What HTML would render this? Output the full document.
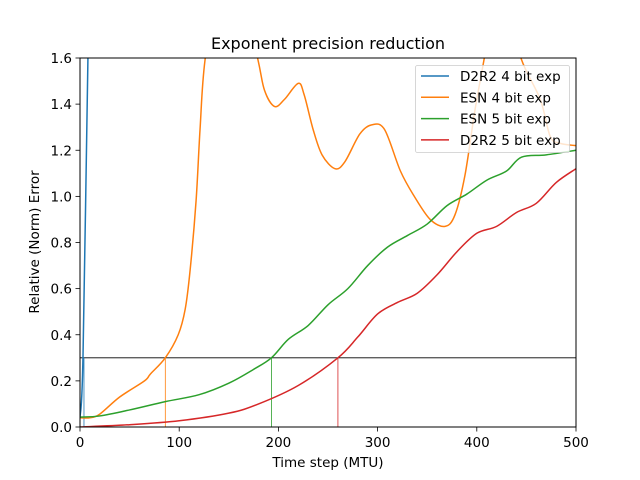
<!DOCTYPE html>
<html><head><meta charset="utf-8"><style>
body{margin:0;background:#fff}
svg{display:block;font-family:"DejaVu Sans","Liberation Sans",sans-serif}
</style></head><body>
<svg id="chart" width="640" height="480" viewBox="0 0 640 480">
<rect width="640" height="480" fill="#fff"/>
<defs><clipPath id="clip"><rect x="80" y="58" width="496" height="369"/></clipPath></defs>
<g id="plot" clip-path="url(#clip)"></g>
<g id="axes"></g>
</svg>
<script>
const xTicks=[0,100,200,300,400,500];
const yTicks=[0.0,0.2,0.4,0.6,0.8,1.0,1.2,1.4,1.6];
const seriesNames=["D2R2 4 bit exp","ESN 4 bit exp","ESN 5 bit exp","D2R2 5 bit exp"];
const colors=["#1f77b4","#ff7f0e","#2ca02c","#d62728"];
const d2r24x=[0,3,8,10];
const d2r24y=[0.04,0.3,1.6,2.0];
const esn4x=[0,10,20,40,65,71,86,99,106,111,117,121,126,140,160,179,186,196,206,220,226,235,244,257,267,282,294,307,323,337,353,368,378,388,398,408,420,432,443,464,474,484,500];
const esn4y=[0.04,0.04,0.056,0.13,0.2,0.23,0.3,0.4,0.51,0.68,0.98,1.29,1.59,1.95,1.95,1.6,1.46,1.39,1.42,1.49,1.44,1.29,1.18,1.12,1.15,1.27,1.31,1.29,1.11,1.0,0.9,0.87,0.92,1.09,1.37,1.61,1.9,1.9,1.62,1.42,1.26,1.23,1.22];
const esn5x=[0,20,50,86,120,150,175,193,210,230,250,270,290,310,330,350,370,390,410,430,445,470,500];
const esn5y=[0.043,0.048,0.074,0.11,0.14,0.19,0.25,0.3,0.38,0.44,0.53,0.6,0.7,0.78,0.83,0.88,0.96,1.01,1.07,1.11,1.17,1.18,1.2];
const d2r25x=[0,50,100,150,180,220,260,280,300,320,340,360,380,400,420,440,460,480,500];
const d2r25y=[0.0,0.01,0.027,0.06,0.1,0.18,0.3,0.39,0.49,0.54,0.58,0.66,0.76,0.84,0.87,0.93,0.97,1.06,1.12];
const threshold=0.3;
const crossX=[4,86,193,260];

const X=v=>80+v*496/500, Y=v=>427-v*369/1.6;
const NS="http://www.w3.org/2000/svg";
const plot=document.getElementById('plot'), axes=document.getElementById('axes');
function mk(tag,attrs,parent){const e=document.createElementNS(NS,tag);for(const k in attrs)e.setAttribute(k,attrs[k]);parent.appendChild(e);return e;}
function smooth(xs,ys){const p=xs.map((x,i)=>[X(x),Y(ys[i])]);let d=`M${p[0][0]},${p[0][1]}`;
for(let i=0;i<p.length-1;i++){const p0=p[i-1]||p[i],p1=p[i],p2=p[i+1],p3=p[i+2]||p2;
d+=` C${p1[0]+(p2[0]-p0[0])/6},${p1[1]+(p2[1]-p0[1])/6} ${p2[0]-(p3[0]-p1[0])/6},${p2[1]-(p3[1]-p1[1])/6} ${p2[0]},${p2[1]}`;}return d;}
let h=mk('line',{x1:80,x2:576,y1:Y(threshold),y2:Y(threshold),stroke:'#000','stroke-width':0.8},plot);

crossX.forEach((cx,i)=>{const l=mk('line',{x1:X(cx),x2:X(cx),y1:Y(0),y2:Y(threshold),stroke:colors[i],'stroke-width':0.8},plot);
});
const all=[[d2r24x,d2r24y],[esn4x,esn4y],[esn5x,esn5y],[d2r25x,d2r25y]];
const names=['d2r2-4bit-line','esn-4bit-line','esn-5bit-line','d2r2-5bit-line'];
all.forEach((s,i)=>{const p=mk('path',{d:smooth(s[0],s[1]),fill:'none',stroke:colors[i],'stroke-width':1.5},plot);
});
const f=mk('rect',{x:80,y:58,width:496,height:369,fill:'none',stroke:'#000','stroke-width':1},axes);

xTicks.forEach(t=>{mk('line',{x1:X(t),x2:X(t),y1:427,y2:431.5,stroke:'#000','stroke-width':0.8},axes);
const tx=mk('text',{x:X(t),y:447,'font-size':13.5,'text-anchor':'middle'},axes);tx.textContent=t;
});
yTicks.forEach(t=>{mk('line',{x1:75.5,x2:80,y1:Y(t),y2:Y(t),stroke:'#000','stroke-width':0.8},axes);
const tx=mk('text',{x:72,y:Y(t)+5,'font-size':13.5,'text-anchor':'end'},axes);tx.textContent=t.toFixed(1);
});
let t=mk('text',{x:328,y:49,'font-size':16,'text-anchor':'middle'},axes);t.textContent='Exponent precision reduction';

t=mk('text',{x:328,y:467,'font-size':13.5,'text-anchor':'middle'},axes);t.textContent='Time step (MTU)';

t=mk('text',{x:0,y:0,'font-size':13.5,'text-anchor':'middle',transform:'translate(39,242) rotate(-90)'},axes);t.textContent='Relative (Norm) Error';

const lg=mk('g',{},axes);
mk('rect',{x:415.5,y:65.5,width:154,height:87,rx:2,fill:'#fff','fill-opacity':0.8,stroke:'#ccc','stroke-width':0.8},lg);
seriesNames.forEach((n,i)=>{const y=76+i*21.3;
mk('line',{x1:421,x2:449,y1:y,y2:y,stroke:colors[i],'stroke-width':1.5},lg);
const e=mk('text',{x:460,y:y+5,'font-size':13.5},lg);e.textContent=n;
});
</script>
</body></html>
